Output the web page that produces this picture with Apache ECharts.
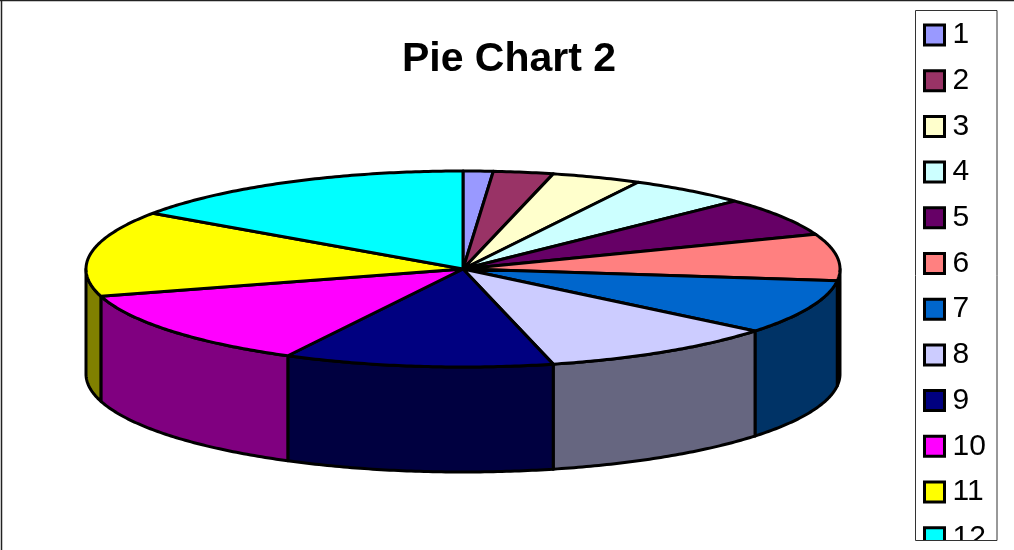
<!DOCTYPE html>
<html><head><meta charset="utf-8">
<style>html,body{margin:0;padding:0;background:#fff}#c{width:1014px;height:550px}</style>
<script src="https://cdn.jsdelivr.net/npm/echarts@6/dist/echarts.min.js"></script>
</head><body><div id="c"></div>
<script>
const categories = ['1','2','3','4','5','6','7','8','9','10','11','12'];
const values = [1,2,3,4,5,6,7,8,9,10,11,12];
const topColors = ['#9999FF','#993366','#FFFFCC','#CCFFFF','#660066','#FF8080','#0066CC','#CCCCFF','#000080','#FF00FF','#FFFF00','#00FFFF'];
const wallColors = ['#4D4D80','#4D1A33','#808066','#668080','#330033','#804040','#003366','#666680','#000040','#800080','#808000','#008080'];

const CX = 463, CY = 269, RX = 377, RY = 98, DEPTH = 105;
const total = values.reduce((a, b) => a + b, 0);
const pt = (deg, dy) => {
  const t = deg * Math.PI / 180;
  return [CX + RX * Math.sin(t), CY - RY * Math.cos(t) + (dy || 0)];
};
const arc = (a, b, dy) => {
  const n = Math.max(2, Math.ceil(Math.abs(b - a) * 1.5)), out = [];
  for (let i = 0; i <= n; i++) out.push(pt(a + (b - a) * i / n, dy));
  return out;
};
const sty = (fill) => ({ fill, stroke: '#000', lineWidth: 3, lineJoin: 'round' });

function renderSlice(index) {
  return function (params, api) {
    const before = values.slice(0, index).reduce((a, b) => a + b, 0);
    const start = before / total * 360;
    const end = start + api.value(0) / total * 360;
    const children = [];
    const a = Math.max(start, 90), b = Math.min(end, 270);
    if (b > a) {
      children.push({
        type: 'polygon', z2: 10 + index,
        shape: { points: arc(a, b, 0).concat(arc(b, a, DEPTH)) },
        style: sty(wallColors[index])
      });
    }
    children.push({
      type: 'polygon', z2: 100 + index,
      shape: { points: [[CX, CY]].concat(arc(start, end, 0)) },
      style: sty(topColors[index])
    });
    return { type: 'group', children };
  };
}

const chart = echarts.init(document.getElementById('c'), null, { renderer: 'canvas' });
chart.setOption({
  animation: false,
  backgroundColor: '#fff',
  title: {
    text: 'Pie Chart 2', left: 504, top: 34, textAlign: 'center',
    textStyle: { fontFamily: '"Liberation Sans", Arial, sans-serif', fontWeight: 'bold', fontSize: 41, color: '#000' }
  },
  legend: {
    orient: 'vertical', left: 915, top: 10, width: 82, height: 620,
    padding: [10, 0, 0, 8], itemGap: 15.7, itemWidth: 20, itemHeight: 20,
    selectedMode: false, align: 'left',
    textStyle: { fontFamily: '"Liberation Sans", Arial, sans-serif', fontSize: 30, color: '#000', padding: [14, 0, 0, 3] },
    data: categories.map((name, i) => ({
      name, icon: 'rect',
      itemStyle: { color: topColors[i], borderColor: '#000', borderWidth: 3 }
    }))
  },
  series: categories.map((name, i) => ({
    type: 'custom', name, coordinateSystem: 'none', silent: true,
    itemStyle: { color: topColors[i] },
    data: [[values[i]]],
    renderItem: renderSlice(i)
  })),
  graphic: [
    { type: 'rect', z: 50, silent: true, shape: { x: 905, y: 541, width: 109, height: 9 }, style: { fill: '#fff' } },
    { type: 'rect', z: 51, silent: true, shape: { x: 915.5, y: 10.5, width: 81.5, height: 530 }, style: { fill: 'none', stroke: '#333', lineWidth: 1 } },
    { type: 'line', z: 51, silent: true, shape: { x1: 1.5, y1: 0, x2: 1.5, y2: 550 }, style: { stroke: '#222', lineWidth: 1.5 } },
    { type: 'line', z: 51, silent: true, shape: { x1: 0, y1: 0.5, x2: 1014, y2: 0.5 }, style: { stroke: '#222', lineWidth: 1.5 } }
  ]
});
</script></body></html>
